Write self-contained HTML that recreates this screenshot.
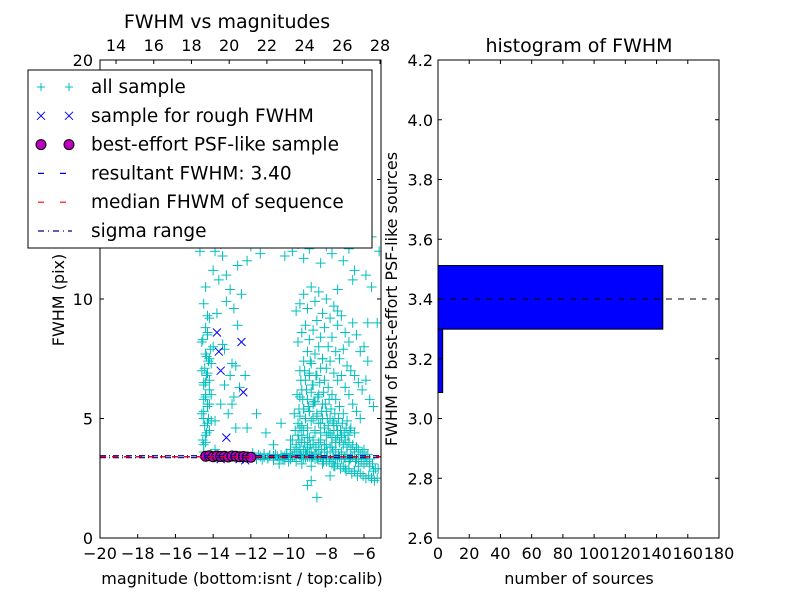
<!DOCTYPE html>
<html><head><meta charset="utf-8"><style>
body{margin:0;background:#fff;}
svg text{font-family:"DejaVu Sans","Liberation Sans",sans-serif;fill:#000;}
</style></head><body>
<svg id="fig" width="800" height="600" viewBox="0 0 800 600" xmlns="http://www.w3.org/2000/svg">
<rect width="800" height="600" fill="#fff"/>
<g id="left"></g>
<g id="right"></g>
</svg>
<script>
// ---- data: left scatter ----
const allX = [-14.5,-14.4,-14.3,-14.6,-14.2,-14.4,-14.5,-14.3,-14.1,-14.4,-14.6,-14.3,-14.2,-14.5,-14.4,-14.0,-13.9,-13.7,-13.5,-13.3,-13.1,-12.9,-12.7,-12.5,-12.2,-12.0,-13.8,-13.4,-12.8,-12.3,-14.7,-14.5,-14.2,-13.9,-13.6,-13.2,-12.6,-12.1,-11.5,-11.0,-10.6,-10.2,-9.8,-9.5,-9.2,-8.9,-8.6,-8.3,-8.0,-7.7,-7.4,-7.1,-6.8,-6.5,-6.2,-5.9,-5.6,-5.3,
-9.6,-9.4,-9.2,-9.0,-8.8,-8.6,-8.4,-8.2,-8.0,-7.8,-7.6,-7.4,-7.2,-7.0,-6.8,-6.6,-6.4,-6.2,-6.0,-5.8,
-9.5,-9.3,-9.1,-8.9,-8.7,-8.5,-8.3,-8.1,-7.9,-7.7,-7.5,-7.3,-7.1,-6.9,-6.7,-6.5,-6.3,-6.1,-5.9,-5.7,-5.5,
-9.4,-9.2,-9.0,-8.8,-8.6,-8.4,-8.2,-8.0,-7.8,-7.6,-7.4,-7.2,-7.0,-6.8,-6.6,-6.4,-6.2,
-9.3,-9.1,-8.9,-8.7,-8.5,-8.3,-8.1,-7.9,-7.7,-7.5,-7.3,-7.1,-6.9,-6.7,-6.5,
-9.2,-9.0,-8.8,-8.6,-8.4,-8.2,-8.0,-7.8,-7.6,-7.4,-7.2,-7.0,
-9.4,-9.1,-8.9,-8.7,-8.5,-8.3,-8.1,-7.9,-7.7,-7.5,
-9.8,-9.5,-9.2,-8.9,-8.6,-8.3,-8.0,-7.7,
-9.9,-9.6,-9.3,-9.0,-8.7,-8.4,-8.1,
-10.1,-9.7,-9.4,-9.1,-8.8,-8.5,
-10.3,-9.9,-9.5,-9.2,-8.9,-8.6,-8.0,-7.5,-6.8,-6.0,
-10.5,-10.0,-9.6,-9.3,-8.8,-8.2,-7.6,-7.0,-6.3,-5.5,
-11.0,-10.6,-10.2,-9.8,-9.4,-9.0,-8.5,-8.0,-7.3,-6.7,-6.0,
-11.8,-11.3,-10.8,-10.4,-9.9,-9.6,-9.1,-8.7,-8.3,-7.8,-7.2,
-12.5,-12.0,-11.5,-11.1,-10.7,-10.3,-9.7,-9.3,-8.8,-8.4,-7.6,-7.0,-6.4,
-13.0,-12.6,-12.2,-11.7,-11.2,-10.8,-10.4,-9.9,-9.4,-8.9,-8.2,-7.4,-6.6,-5.8,
-14.6,-14.3,-14.0,-13.6,-13.2,-12.8,-12.4,-12.0,-11.6,-11.2,-10.8,-10.4,-10.0,-9.6,-9.2,-8.8,-8.4,-8.0,-7.6,-7.2,-6.8,-6.4,-6.0,-5.6,-5.2,
-14.4,-14.2,-14.5,-14.3,-14.1,-14.4,-14.6,-14.2,-14.0,-14.3,-13.9,-14.5,
-9.0,-8.5,-7.8,-6.5,-5.6,-8.8,-9.5,
-14.55,-14.35,-14.45,-14.25,-14.5,-14.3,-14.4,-14.2,-14.5,-14.35,-14.45,-14.25,-14.15,-14.55,-14.4,-14.3,-14.1,-14.5,-14.2,-14.35,
-13.9,-13.6,-13.4,-13.2,-13.0,-12.8,-13.5,-13.1,-12.9,-13.7,-13.3,-12.7,
-9.7,-9.55,-9.45,-9.35,-9.25,-9.15,-9.05,-8.95,-8.85,-8.75,-8.65,-8.55,-8.45,-8.35,-8.25,-8.15,-8.05,-7.95,-7.85,-7.75,-7.65,-7.55,-7.45,-7.35,-7.25,-7.15,-7.05,-6.95,-6.85,-6.75,
-9.65,-9.5,-9.4,-9.3,-9.2,-9.1,-9.0,-8.9,-8.8,-8.7,-8.6,-8.5,-8.4,-8.3,-8.2,-8.1,-8.0,-7.9,-7.8,-7.7,-7.6,-7.5,-7.4,-7.3,-7.2,-7.1,-7.0,-6.9,-6.8,-6.7,-6.6,-6.5,-6.4,-6.3,-6.2,-6.1,-6.0,-5.9,-5.8,-5.7,
-9.6,-9.45,-9.3,-9.15,-9.0,-8.85,-8.7,-8.55,-8.4,-8.25,-8.1,-7.95,-7.8,-7.65,-7.5,-7.35,-7.2,-7.05,-6.9,-6.75,-6.6,-6.45,-6.3,-6.15,-6.0,-5.85,-5.7,-5.55,-5.4,-5.25,
-9.5,-9.35,-9.2,-9.05,-8.9,-8.75,-8.6,-8.45,-8.3,-8.15,-8.0,-7.85,-7.7,-7.55,-7.4,-7.25,-7.1,-6.95,-6.8,-6.65,-6.5,-6.35,-6.2,-6.05,-5.9,-5.75,-5.6,-5.45,-5.3,
-11.9,-11.6,-11.3,-11.0,-10.7,-10.4,-10.1,-9.8,-11.7,-11.4,-11.1,-10.8,-10.5,-10.2,-9.9];
const allY = [3.9,4.3,4.8,5.2,5.6,6.0,6.4,6.9,7.3,7.7,8.2,8.6,9.2,9.8,10.5,11.2,12.0,12.5,11.8,11.0,10.4,9.6,8.9,10.2,11.6,12.2,9.4,7.9,7.2,6.8,12.0,13.5,13.0,12.7,12.3,12.6,12.4,12.5,11.9,12.6,12.4,11.8,12.0,12.3,11.7,12.1,12.6,11.5,12.2,11.9,10.4,11.6,12.1,11.2,12.6,11.0,10.5,9.0,
9.5,9.8,10.2,9.6,10.5,9.9,10.3,9.4,10.0,9.2,9.7,8.9,9.3,8.6,8.2,9.0,8.5,7.8,8.0,7.4,
8.2,8.6,8.9,8.3,8.7,9.1,8.4,8.8,8.0,8.4,7.8,7.5,7.9,7.2,7.0,6.8,6.5,6.2,6.6,5.8,5.5,
7.0,7.4,7.8,7.3,7.7,8.0,7.5,7.1,7.4,6.9,6.6,6.8,6.3,6.0,5.6,5.3,5.0,
6.2,6.6,6.9,6.4,6.8,7.1,6.6,6.3,6.0,5.8,5.5,5.2,4.9,4.6,4.4,
5.4,5.8,6.1,5.7,6.0,5.6,5.3,5.0,4.8,4.5,4.3,4.1,
4.6,5.0,5.3,5.0,5.2,4.8,4.6,4.4,4.2,4.0,
4.1,4.3,4.5,4.2,4.4,4.1,3.9,3.8,
3.7,3.8,4.0,3.8,3.9,3.7,3.6,
3.5,3.6,3.7,3.6,3.6,3.5,
3.3,3.4,3.5,3.3,3.4,3.3,3.2,3.3,3.2,3.1,
3.1,3.2,3.2,3.1,3.0,3.1,3.0,2.9,3.0,2.8,
3.45,3.42,3.44,3.38,3.45,3.40,3.36,3.42,3.38,3.35,3.32,
3.40,3.38,3.43,3.36,3.41,3.44,3.37,3.39,3.42,3.36,3.3,
3.42,3.38,3.41,3.37,3.44,3.39,3.43,3.36,3.40,3.38,3.35,3.33,3.30,
5.6,6.3,4.6,5.2,4.4,3.9,4.8,4.1,5.9,6.8,7.5,9.5,10.8,9.0,
14.5,16.0,15.2,13.8,14.8,16.5,13.6,15.5,14.2,13.4,15.0,14.0,13.2,16.2,14.6,13.9,15.4,13.3,14.9,13.7,12.9,14.3,13.1,12.6,12.0,
4.0,4.5,5.0,5.5,6.0,6.5,7.0,7.5,8.0,8.5,3.7,3.6,
2.2,1.7,2.6,2.8,2.5,2.4,12.8,
4.1,4.4,4.7,5.0,5.3,5.6,5.9,6.2,6.5,6.8,7.1,7.4,7.9,8.3,8.8,9.3,4.9,5.8,6.6,7.6,
4.9,5.6,6.4,5.2,7.3,4.6,8.1,6.8,5.9,10.8,9.9,11.4,
5.2,6.0,5.4,6.6,5.8,7.0,6.2,5.5,7.4,6.4,5.7,6.8,5.9,6.5,5.3,6.1,5.6,5.0,5.8,5.4,4.9,5.2,4.7,5.0,4.5,4.8,4.4,4.6,4.3,4.5,
4.5,4.8,5.1,4.7,5.4,5.0,4.6,5.3,4.9,5.6,4.5,5.1,4.8,4.4,5.0,4.6,4.3,4.7,4.4,4.2,4.5,4.1,4.3,4.0,4.2,3.9,4.1,3.8,4.0,3.7,3.9,3.6,3.8,3.7,3.5,3.6,3.7,3.4,3.5,3.3,
3.9,4.1,4.3,4.0,4.2,3.9,4.1,3.8,4.0,3.7,3.9,3.6,3.8,3.6,3.7,3.5,3.6,3.4,3.5,3.3,3.4,3.2,3.3,3.2,3.1,3.2,3.0,3.1,2.9,2.9,
3.6,3.5,3.7,3.5,3.6,3.4,3.5,3.3,3.4,3.2,3.3,3.2,3.1,3.0,3.1,2.9,3.0,2.8,2.9,2.7,2.8,2.6,2.7,2.6,2.5,2.6,2.5,2.4,2.5,
3.55,3.48,3.52,3.46,3.5,3.47,3.53,3.45,3.3,3.28,3.32,3.26,3.3,3.27,3.29];
const roughX = [-13.8,-13.7,-13.6,-12.5,-12.4,-13.3,-12.3,-12.6,-13.6];
const roughY = [8.6,7.8,7.0,8.2,6.1,4.2,3.25,3.3,3.3];
const bestX = [-14.4,-14.2,-14.0,-13.8,-13.6,-13.4,-13.2,-13.0,-12.8,-12.6,-12.4,-12.2,-12.0];
const bestY = [3.42,3.44,3.40,3.43,3.41,3.42,3.39,3.43,3.42,3.40,3.41,3.39,3.38];
const resultantFWHM = 3.40;
const medianFWHM = 3.40;
const sigmaLo = 3.36, sigmaHi = 3.44;
const xTicks = [-20,-18,-16,-14,-12,-10,-8,-6];
const yTicks = [0,5,10,15,20];
const topTicks = [14,16,18,20,22,24,26,28];
// ---- data: histogram ----
const binStarts = [3.087,3.299];
const binEnds = [3.299,3.512];
const binCounts = [3,144];
const histXTicks = [0,20,40,60,80,100,120,140,160,180];
const histYTicks = [2.6,2.8,3.0,3.2,3.4,3.6,3.8,4.0,4.2];

const NS='http://www.w3.org/2000/svg';
function mk(parent,tag,attrs,txt){const e=document.createElementNS(NS,tag);for(const k in attrs)e.setAttribute(k,attrs[k]);if(txt!==undefined)e.textContent=txt;parent.appendChild(e);return e;}

// left axes
const L={x0:100,x1:381,y0:538,y1:60};
const xs=v=>L.x0+(v+20)*(L.x1-L.x0)/14.9;
const ys=v=>L.y0-v*(L.y0-L.y1)/20;
const xt=v=>xs(v-33.15);
const left=document.getElementById('left');
let clip=mk(left,'clipPath',{id:'lc'});mk(clip,'rect',{x:L.x0,y:L.y1,width:L.x1-L.x0,height:L.y0-L.y1});
const pts=mk(left,'g',{'clip-path':'url(#lc)'});
for(let i=0;i<allX.length;i++){
  const x=xs(allX[i]),y=ys(allY[i]);
  const p=mk(pts,'path',{d:`M${x-5},${y}H${x+5}M${x},${y-5}V${y+5}`,stroke:'#00bfbf','stroke-width':1});
  
  
}
for(let i=0;i<roughX.length;i++){
  const x=xs(roughX[i]),y=ys(roughY[i]);
  const p=mk(pts,'path',{d:`M${x-4},${y-4}L${x+4},${y+4}M${x-4},${y+4}L${x+4},${y-4}`,stroke:'#0000ff','stroke-width':1});
  
  
}
for(let i=0;i<bestX.length;i++){
  const c=mk(pts,'circle',{cx:xs(bestX[i]),cy:ys(bestY[i]),r:5,fill:'#bf00bf',stroke:'#000','stroke-width':1});
  
  
}
function hline(v,color,dash,name){const l=mk(pts,'line',{x1:L.x0,x2:L.x1,y1:ys(v),y2:ys(v),stroke:color,'stroke-width':1.2,'stroke-dasharray':dash});}
hline(sigmaLo,'#00008b','6 3 1 3','sigma-range-low');
hline(sigmaHi,'#00008b','6 3 1 3','sigma-range-high');
hline(resultantFWHM,'#0000ff','6 6','resultant-fwhm-line');
hline(medianFWHM,'#ff0000','6 6','median-fwhm-line');
mk(left,'rect',{x:L.x0,y:L.y1,width:L.x1-L.x0,height:L.y0-L.y1,fill:'none',stroke:'#000','stroke-width':1});
for(const t of xTicks){const x=xs(t);mk(left,'path',{d:`M${x},${L.y0}v-4`,stroke:'#000'});mk(left,'text',{x:x,y:559,'font-size':16,'text-anchor':'middle'},t<0?'\u2212'+(-t):t);}
for(const t of topTicks){const x=xt(t);mk(left,'path',{d:`M${x},${L.y1}v4`,stroke:'#000'});mk(left,'text',{x:x,y:51,'font-size':16,'text-anchor':'middle'},t);}
for(const t of yTicks){const y=ys(t);mk(left,'path',{d:`M${L.x0},${y}h4M${L.x1},${y}h-4`,stroke:'#000'});mk(left,'text',{x:L.x0-7,y:y+6,'font-size':16,'text-anchor':'end'},t);}
mk(left,'text',{x:242,y:584,'font-size':16,'text-anchor':'middle',},'magnitude (bottom:isnt / top:calib)');
mk(left,'text',{x:64,y:300,'font-size':16,'text-anchor':'middle',transform:'rotate(-90 64 300)',},'FWHM (pix)');
mk(left,'text',{x:227,y:28,'font-size':19,'text-anchor':'middle',},'FWHM vs magnitudes');
// legend
const lg=mk(left,'g',{});
mk(lg,'rect',{x:28,y:70,width:344,height:178,fill:'#fff',stroke:'#000','stroke-width':1});
const ents=[['all sample','plus'],['sample for rough FWHM','x'],['best-effort PSF-like sample','o'],['resultant FWHM: 3.40','bd'],['median FHWM of sequence','rd'],['sigma range','dd']];
ents.forEach((e,i)=>{const y=87+i*28.8;const g=mk(lg,'g',{});
 for(const cx of [41,69]){
  if(e[1]=='plus')mk(g,'path',{d:`M${cx-4},${y}h8M${cx},${y-4}v8`,stroke:'#00bfbf'});
  if(e[1]=='x')mk(g,'path',{d:`M${cx-4},${y-4}l8,8M${cx-4},${y+4}l8,-8`,stroke:'#0000ff'});
  if(e[1]=='o')mk(g,'circle',{cx:cx,cy:y,r:5,fill:'#bf00bf',stroke:'#000'});
 }
 if(e[1]=='bd')mk(g,'line',{x1:38,x2:72,y1:y,y2:y,stroke:'#0000ff','stroke-dasharray':'6 16','stroke-width':1.2});
 if(e[1]=='rd')mk(g,'line',{x1:38,x2:72,y1:y,y2:y,stroke:'#ff0000','stroke-dasharray':'6 16','stroke-width':1.2});
 if(e[1]=='dd')mk(g,'line',{x1:38,x2:72,y1:y,y2:y,stroke:'#00008b','stroke-dasharray':'6 4 1 4','stroke-width':1.2});
 mk(g,'text',{x:91,y:y+6,'font-size':18.5},e[0]);
});

// right histogram
const R={x0:438,x1:719,y0:538,y1:60};
const hx=v=>R.x0+v*(R.x1-R.x0)/180;
const hy=v=>R.y0-(v-2.6)*(R.y0-R.y1)/1.6;
const right=document.getElementById('right');
for(let i=0;i<binCounts.length;i++){
  const r=mk(right,'rect',{x:hx(0),y:hy(binEnds[i]),width:hx(binCounts[i])-hx(0),height:hy(binStarts[i])-hy(binEnds[i]),fill:'#0000ff',stroke:'#000','stroke-width':1});
  
  
}
mk(right,'line',{x1:hx(0),x2:hx(172),y1:hy(resultantFWHM),y2:hy(resultantFWHM),stroke:'#000','stroke-dasharray':'6 6','stroke-width':1,});
mk(right,'rect',{x:R.x0,y:R.y1,width:R.x1-R.x0,height:R.y0-R.y1,fill:'none',stroke:'#000'});
for(const t of histXTicks){const x=hx(t);mk(right,'path',{d:`M${x},${R.y0}v-4M${x},${R.y1}v4`,stroke:'#000'});mk(right,'text',{x:x,y:559,'font-size':16,'text-anchor':'middle'},t);}
for(const t of histYTicks){const y=hy(t);mk(right,'path',{d:`M${R.x0},${y}h4M${R.x1},${y}h-4`,stroke:'#000'});mk(right,'text',{x:R.x0-5,y:y+6,'font-size':16,'text-anchor':'end'},t.toFixed(1));}
mk(right,'text',{x:579,y:584,'font-size':16,'text-anchor':'middle',},'number of sources');
mk(right,'text',{x:397,y:299,'font-size':16,'text-anchor':'middle',transform:'rotate(-90 397 299)',},'FWHM of best-effort PSF-like sources');
mk(right,'text',{x:579,y:52,'font-size':19,'text-anchor':'middle',},'histogram of FWHM');
</script>
</body></html>
